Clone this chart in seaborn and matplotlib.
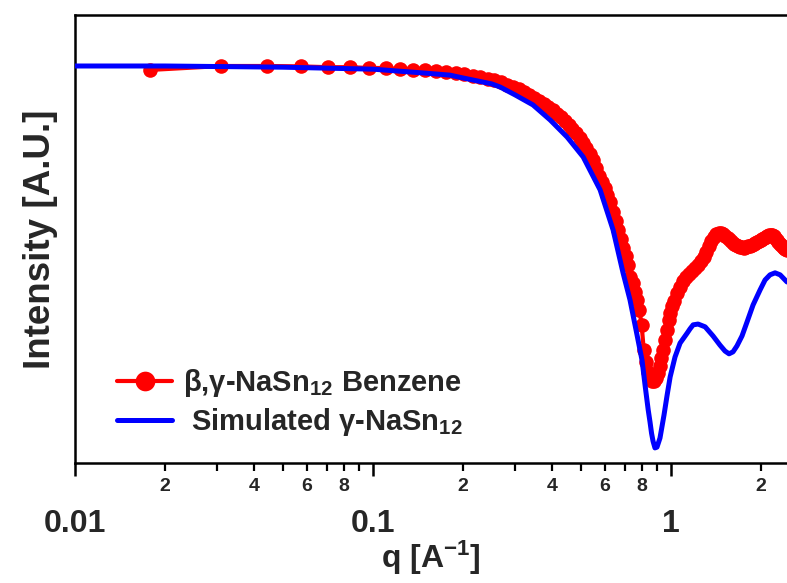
import numpy as np
import pandas as pd
import matplotlib
matplotlib.use("Agg")
import matplotlib.pyplot as plt
import seaborn as sns
from matplotlib.ticker import LogLocator, FuncFormatter

# ---------------- data ----------------
# Simulated gamma-NaSn12 (smooth curve)
sim_q = [0.010, 0.020, 0.050, 0.100, 0.150, 0.181, 0.200, 0.250, 0.267, 0.300,
         0.344, 0.393, 0.448, 0.507, 0.578, 0.639, 0.690, 0.728, 0.763, 0.799,
         0.818, 0.838, 0.850, 0.860, 0.870, 0.883, 0.897, 0.918, 0.947, 0.970,
         0.993, 1.031, 1.072, 1.132, 1.158, 1.186, 1.232, 1.301, 1.383, 1.459,
         1.517, 1.565, 1.614, 1.664, 1.730, 1.798, 1.884, 1.989, 2.067, 2.148,
         2.233, 2.322, 2.449]
sim_I = [1.000, 1.000, 0.997, 0.992, 0.982, 0.977, 0.970, 0.955, 0.947, 0.927,
         0.902, 0.864, 0.821, 0.771, 0.688, 0.587, 0.479, 0.411, 0.335, 0.259,
         0.196, 0.134, 0.103, 0.075, 0.055, 0.038, 0.040, 0.063, 0.121, 0.171,
         0.217, 0.267, 0.302, 0.327, 0.338, 0.348, 0.350, 0.343, 0.320, 0.297,
         0.282, 0.275, 0.280, 0.295, 0.320, 0.355, 0.398, 0.436, 0.461, 0.474,
         0.479, 0.474, 0.456]

# Measured beta,gamma-NaSn12 in benzene (markers)
exp_q = [0.0178, 0.0310, 0.0442, 0.0574, 0.0706, 0.0838, 0.0970, 0.1102, 0.1234, 0.1366,
         0.1498, 0.1630, 0.1762, 0.1894, 0.2026, 0.2158, 0.2290, 0.2422, 0.2554, 0.2686,
         0.2818, 0.2950, 0.3082, 0.3214, 0.3346, 0.3478, 0.3610, 0.3742, 0.3874, 0.4006,
         0.4138, 0.4270, 0.4402, 0.4534, 0.4666, 0.4798, 0.4930, 0.5062, 0.5194, 0.5326,
         0.5458, 0.5590, 0.5722, 0.5854, 0.5986, 0.6118, 0.6250, 0.6382, 0.6514, 0.6646,
         0.6778, 0.6910, 0.7042, 0.7174, 0.7306, 0.7438, 0.7570, 0.7702, 0.7834, 0.7966,
         0.8098, 0.8230, 0.8362, 0.8494, 0.8626, 0.8758, 0.8890, 0.9022, 0.9154, 0.9286,
         0.9418, 0.9550, 0.9682, 0.9814, 0.9946, 1.0078, 1.0210, 1.0474, 1.0738, 1.1002,
         1.1266, 1.1530, 1.1794, 1.2058, 1.2322, 1.2586, 1.2850, 1.3114, 1.3378, 1.3642,
         1.3906, 1.4170, 1.4434, 1.4698, 1.4962, 1.5226, 1.5490, 1.5754, 1.6018, 1.6282,
         1.6546, 1.6810, 1.7074, 1.7338, 1.7602, 1.7866, 1.8130, 1.8394, 1.8658, 1.8922,
         1.9186, 1.9450, 1.9714, 1.9978, 2.0242, 2.0506, 2.0770, 2.1034, 2.1298, 2.1562,
         2.1826, 2.2090, 2.2354, 2.2618, 2.2882, 2.3146, 2.3410, 2.3674, 2.3938, 2.4202,
         2.4466]
exp_I = [0.990, 1.000, 1.000, 0.999, 0.997, 0.997, 0.995, 0.995, 0.992, 0.991,
         0.990, 0.987, 0.985, 0.982, 0.980, 0.975, 0.972, 0.967, 0.965, 0.960,
         0.952, 0.947, 0.942, 0.935, 0.927, 0.919, 0.912, 0.904, 0.897, 0.889,
         0.879, 0.872, 0.861, 0.851, 0.841, 0.831, 0.819, 0.806, 0.793, 0.778,
         0.763, 0.743, 0.723, 0.708, 0.693, 0.675, 0.657, 0.632, 0.610, 0.587,
         0.564, 0.542, 0.521, 0.499, 0.469, 0.453, 0.431, 0.411, 0.385, 0.348,
         0.285, 0.254, 0.229, 0.217, 0.207, 0.207, 0.214, 0.227, 0.244, 0.264,
         0.285, 0.310, 0.335, 0.360, 0.378, 0.395, 0.408, 0.428, 0.443, 0.458,
         0.469, 0.476, 0.484, 0.491, 0.499, 0.509, 0.519, 0.531, 0.547, 0.559,
         0.569, 0.577, 0.579, 0.579, 0.577, 0.572, 0.567, 0.562, 0.557, 0.552,
         0.549, 0.547, 0.544, 0.544, 0.542, 0.544, 0.547, 0.547, 0.549, 0.552,
         0.554, 0.557, 0.559, 0.562, 0.564, 0.567, 0.569, 0.572, 0.574, 0.574,
         0.574, 0.572, 0.567, 0.562, 0.557, 0.552, 0.549, 0.544, 0.542, 0.539,
         0.537]

exp_label = r"$\beta$,$\gamma$-NaSn$_{12}$ Benzene"
sim_label = r" Simulated $\gamma$-NaSn$_{12}$"
x_label = r"q [A$^{-1}$]"
y_label = "Intensity [A.U.]"
major_labels = {0.01: "0.01", 0.1: "0.1", 1.0: "1"}

# ---------------- style ----------------
sns.set_style("white")
plt.rcParams["font.family"] = ["Liberation Sans", "DejaVu Sans"]
plt.rcParams["font.weight"] = "bold"
plt.rcParams["mathtext.fontset"] = "custom"
plt.rcParams["mathtext.rm"] = "Liberation Sans:bold"
plt.rcParams["mathtext.it"] = "Liberation Sans:bold"
plt.rcParams["mathtext.bf"] = "Liberation Sans:bold"
plt.rcParams["mathtext.default"] = "rm"

fig = plt.figure(figsize=(7.87, 5.83), dpi=100)
W, H = 787, 583
ax = fig.add_axes([75 / W, 1 - 463 / H, 1 - 75 / W, (463 - 15) / H])

df_exp = pd.DataFrame({"q": exp_q, "I": exp_I})
df_sim = pd.DataFrame({"q": sim_q, "I": sim_I})

sns.lineplot(data=df_exp, x="q", y="I", ax=ax, color="#FF0000", lw=3.0,
             marker="o", markersize=10.5, markeredgecolor="#FF0000",
             markeredgewidth=0, label=exp_label, zorder=2, estimator=None)
sns.lineplot(data=df_sim, x="q", y="I", ax=ax, color="#0000FF", lw=3.6,
             label=sim_label, zorder=3, estimator=None)

ax.set_xscale("log")
ax.set_xlim(0.01, 2.449)
ax.set_ylim(0, 448 / 397)

for side in ["left", "top", "bottom"]:
    ax.spines[side].set_color("black")
    ax.spines[side].set_linewidth(1.8)
ax.spines["right"].set_visible(False)

ax.set_yticks([])
ax.xaxis.set_major_locator(LogLocator(base=10, numticks=10))
ax.xaxis.set_minor_locator(LogLocator(base=10, subs=range(2, 10), numticks=10))


def major_fmt(v, pos):
    for k, s in major_labels.items():
        if abs(v - k) < 1e-9:
            return s
    return ""


def minor_fmt(v, pos):
    m = v / 10 ** np.floor(np.log10(v) + 1e-9)
    m = int(round(m))
    return str(m) if m in (2, 4, 6, 8) else ""


ax.xaxis.set_major_formatter(FuncFormatter(major_fmt))
ax.xaxis.set_minor_formatter(FuncFormatter(minor_fmt))
ax.tick_params(axis="x", which="major", direction="out", length=9, width=1.8,
               color="black", labelsize=23, pad=24, bottom=True)
ax.tick_params(axis="x", which="minor", direction="out", length=6, width=1.6,
               color="black", labelsize=14, pad=5, bottom=True)

ax.set_xlabel(x_label, fontsize=23, fontweight="bold", labelpad=0)
ax.set_ylabel(y_label, fontsize=26.5, fontweight="bold", labelpad=12)

leg = ax.legend(loc="upper left", bbox_to_anchor=(0.059, 0.2145), frameon=False,
                fontsize=21, handlelength=1.9, handletextpad=0.35,
                borderpad=0, borderaxespad=0, labelspacing=0.24, markerscale=1.35)
for t in leg.get_texts():
    t.set_fontweight("bold")

fig.savefig("out.png", dpi=100)
